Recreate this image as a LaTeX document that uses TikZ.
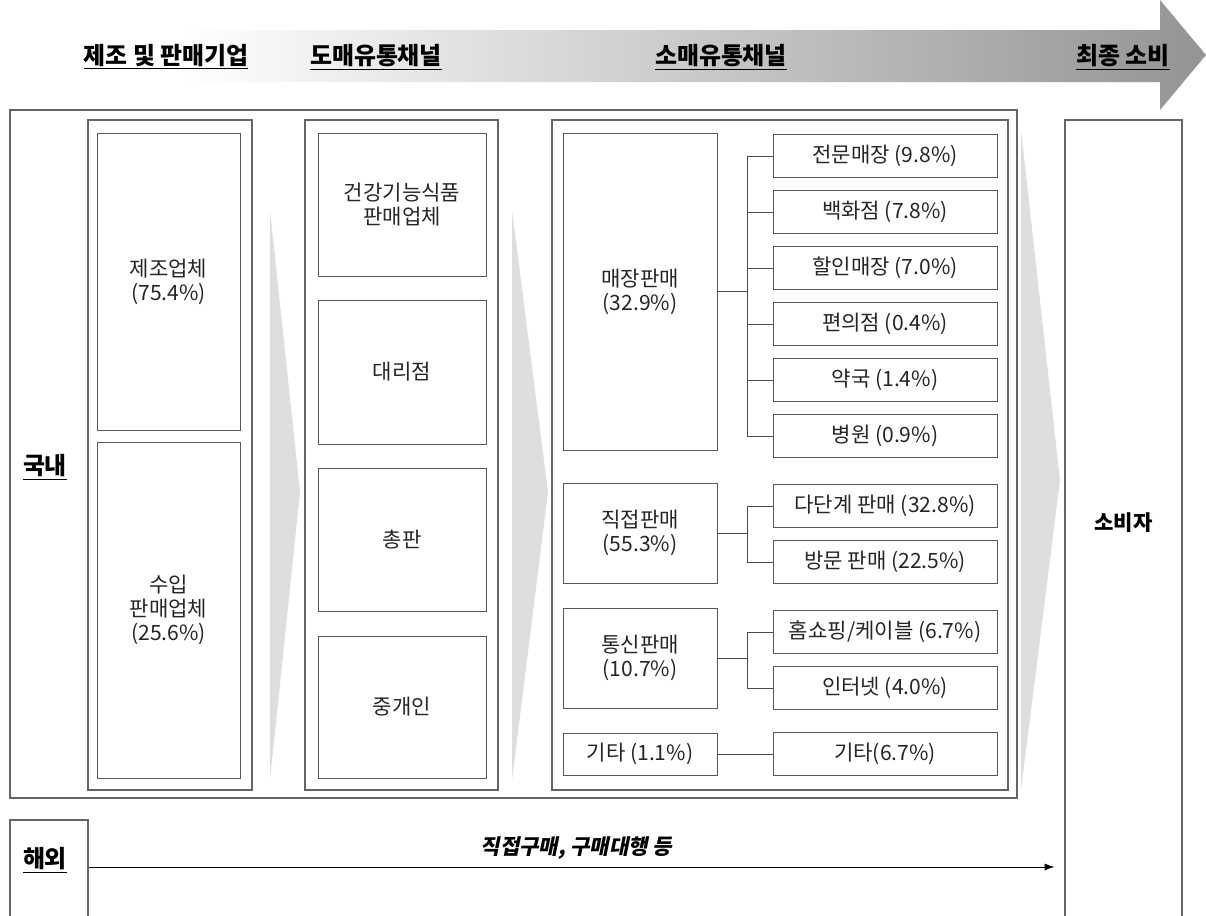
\documentclass[tikz,border=0pt]{standalone}
\usepackage{fontspec}
\setmainfont{Noto Sans CJK KR}
\newfontfamily\slantfont{Noto Sans CJK KR}[FakeSlant=0.2]
\usetikzlibrary{positioning,fit,arrows.meta}

\begin{document}
\begin{tikzpicture}[
  x=0.025cm, y=-0.025cm,
  node distance=0.3cm,
  frame/.style={draw=black!60,line width=0.8pt,inner sep=0pt},
  cell/.style={draw=black!65,line width=0.7pt,inner sep=0pt,align=center,
    font=\fontsize{15}{17}\selectfont,text=black!85},
  sized/.style 2 args={minimum width=#1*0.025cm,minimum height=#2*0.025cm},
  subcell/.style={cell,sized={224}{43}},
  link/.style={draw=black!70,line width=0.6pt},
  title/.style={font=\fontsize{17}{20}\selectfont\bfseries},
  chevron/.style={fill=black!13}
]
\useasboundingbox (0,0) rectangle (1206,916);
\clip (0,0) rectangle (1206,916);
\fill[white] (0,0) rectangle (1206,916);

% flow arrow on top
\shade[left color=white,right color=black!42]
  (180,30) -- (1160,30) -- (1160,0) -- (1206,55) -- (1160,110) -- (1160,82) -- (180,82) -- cycle;
\node[title] (h1) at (166,57) {\underline{제조 및 판매기업}};
\node[title] (h2) at (376,57) {\underline{도매유통채널}};
\node[title] (h3) at (721,57) {\underline{소매유통채널}};
\node[title] (h4) at (1123,57) {\underline{최종 소비}};

% domestic frame and columns
\node[frame,fit={(10,110) (1017,798)}] (domestic) {};
\node[title] (kr) at (45,467) {\underline{국내}};
\node[frame,fit={(88,120) (252,790)}] (col1) {};
\node[frame,fit={(305,120) (498,790)}] (col2) {};
\node[frame,fit={(552,120) (1008,790)}] (col3) {};

% grey chevrons between the stages
\fill[chevron] (270,210) -- (300,492) -- (270,780) -- cycle;
\fill[chevron] (512,210) -- (548,492) -- (512,780) -- cycle;
\fill[chevron] (1021,130) -- (1060,480) -- (1021,790) -- cycle;

% manufacturers
\node[cell,sized={143}{297}] (maker) at (168.5,281.5) {제조업체\\(75.4\%)};
\node[cell,sized={143}{336}] (importer) at (168.5,610) {수입\\판매업체\\(25.6\%)};

% wholesale
\node[cell,sized={168}{143}] (health) at (402,204.5) {건강기능식품\\판매업체};
\node[cell,sized={168}{144}] (agency) at (402,372) {대리점};
\node[cell,sized={168}{143}] (dist) at (402,539.5) {총판};
\node[cell,sized={168}{142}] (broker) at (402,707) {중개인};

% retail
\node[cell,sized={154}{317}] (store) at (640,291.5) {매장판매\\(32.9\%)};
\node[cell,sized={154}{100}] (direct) at (640,533) {직접판매\\(55.3\%)};
\node[cell,sized={154}{100}] (mail) at (640,658) {통신판매\\(10.7\%)};
\node[cell,sized={154}{42}] (etc) at (640,754) {기타 (1.1\%)};

\node[subcell] (s1) at (885,156) {전문매장 (9.8\%)};
\node[subcell,below=of s1] (s2) {백화점 (7.8\%)};
\node[subcell,below=of s2] (s3) {할인매장 (7.0\%)};
\node[subcell,below=of s3] (s4) {편의점 (0.4\%)};
\node[subcell,below=of s4] (s5) {약국 (1.4\%)};
\node[subcell,below=of s5] (s6) {병원 (0.9\%)};

\node[subcell] (d1) at (885,506) {다단계 판매 (32.8\%)};
\node[subcell,below=of d1] (d2) {방문 판매 (22.5\%)};

\node[subcell] (m1) at (885,632) {홈쇼핑/케이블 (6.7\%)};
\node[subcell,below=of m1] (m2) {인터넷 (4.0\%)};

\node[subcell] (e1) at (885,754) {기타(6.7\%)};

\foreach \s in {s1,s2,s3,s4,s5,s6}
  \draw[link] (store.east) -- +(30,0) |- (\s.west);
\foreach \s in {d1,d2}
  \draw[link] (direct.east) -- +(30,0) |- (\s.west);
\foreach \s in {m1,m2}
  \draw[link] (mail.east) -- +(30,0) |- (\s.west);
\draw[link] (etc) -- (e1);

% consumer
\node[cell,frame,sized={117}{806},font=\fontsize{15}{17}\selectfont\bfseries,text=black] (consumer) at (1123.5,523) {소비자};

% overseas
\node[frame,sized={78}{110}] (abroad) at (49,875) {};
\node[title] (abroadlbl) at (45,860) {\underline{해외}};
\draw[link,black,-{Latex[length=7pt,width=5pt]},shorten >=0.25cm]
  ([yshift=5.7pt]abroad.east) -- ([yshift=5.7pt]abroad.east -| consumer.west)
  node[midway,above=2pt,font=\slantfont\fontsize{15}{17}\selectfont\bfseries] {직접구매, 구매대행 등};
\end{tikzpicture}
\end{document}
